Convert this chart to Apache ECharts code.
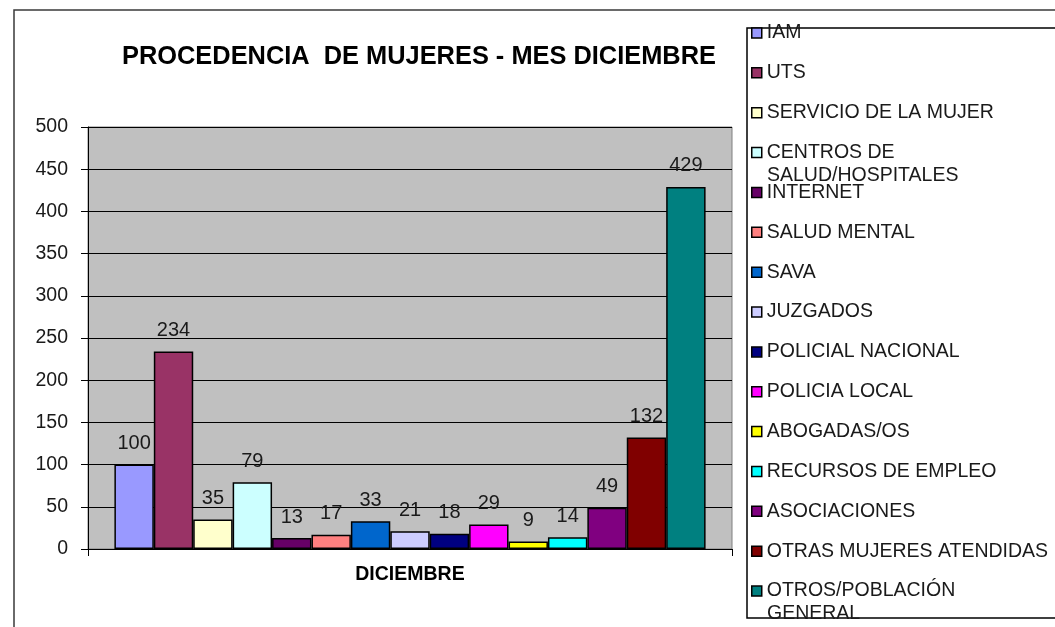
<!DOCTYPE html>
<html>
<head>
<meta charset="utf-8">
<script src="https://cdn.jsdelivr.net/npm/echarts@6/dist/echarts.min.js"></script>
<style>
html,body{margin:0;padding:0;background:#fff;}
#chart{width:1055px;height:627px;}
</style>
</head>
<body>
<div id="chart"></div>
<script>
const title = 'PROCEDENCIA  DE MUJERES - MES DICIEMBRE';
const categories = ['DICIEMBRE'];
const seriesNames = [
  'IAM', 'UTS', 'SERVICIO DE LA MUJER', 'CENTROS DE', 'INTERNET', 'SALUD MENTAL',
  'SAVA', 'JUZGADOS', 'POLICIAL NACIONAL', 'POLICIA LOCAL', 'ABOGADAS/OS',
  'RECURSOS DE EMPLEO', 'ASOCIACIONES', 'OTRAS MUJERES ATENDIDAS', 'OTROS/POBLACIÓN'
];
const seriesValues = [100, 234, 35, 79, 13, 17, 33, 21, 18, 29, 9, 14, 49, 132, 429];
const seriesColors = [
  '#9999FF', '#993366', '#FFFFCC', '#CCFFFF', '#660066', '#FF8080',
  '#0066CC', '#CCCCFF', '#000080', '#FF00FF', '#FFFF00',
  '#00FFFF', '#800080', '#800000', '#008080'
];
const legendSecondLines = [
  {after: 'CENTROS DE', text: 'SALUD/HOSPITALES'},
  {after: 'OTROS/POBLACIÓN', text: 'GENERAL'}
];
const yTicks = {min: 0, max: 500, interval: 50};

const FONT = '"Liberation Sans", Arial, sans-serif';
const chart = echarts.init(document.getElementById('chart'), null, {renderer: 'canvas'});

const legendTop = 23, legendStep = 39.86, legendFont = 19.5;

const series = seriesNames.map((name, i) => ({
  name: name,
  type: 'bar',
  data: [seriesValues[i]],
  barGap: '0%',
  barCategoryGap: '8.2%',
  itemStyle: {color: seriesColors[i], borderColor: '#000', borderWidth: 1.5},
  label: {
    show: true, position: 'top', distance: 11,
    color: '#1a1a1a', fontFamily: FONT, fontSize: 20
  }
}));

const graphics = [
  {type: 'rect', shape: {x: 14, y: 10, width: 1100, height: 700},
   style: {fill: 'none', stroke: '#3a3a3a', lineWidth: 1.5}, z: -10},
  {type: 'rect', shape: {x: 747, y: 28, width: 400, height: 590},
   style: {fill: '#fff', stroke: '#000', lineWidth: 1.5}, z: -5}
];
legendSecondLines.forEach(s => {
  const idx = seriesNames.indexOf(s.after);
  graphics.push({
    type: 'text', left: 767, top: legendTop + idx * legendStep + 23,
    style: {text: s.text, fill: '#1a1a1a', font: legendFont + 'px ' + FONT},
    z: 10
  });
});

chart.setOption({
  animation: false,
  backgroundColor: '#fff',
  title: {
    text: title, left: 122, top: 44, padding: 0,
    textStyle: {fontFamily: FONT, fontSize: 25.4, fontWeight: 'bold', color: '#000', lineHeight: 26}
  },
  legend: {
    orient: 'vertical', left: 751, top: legendTop, padding: 0,
    itemGap: legendStep - 20, itemWidth: 10, itemHeight: 10, icon: 'rect',
    selectedMode: false,
    itemStyle: {borderColor: '#000', borderWidth: 1.5},
    textStyle: {fontFamily: FONT, fontSize: legendFont, color: '#1a1a1a', lineHeight: 20},
    data: seriesNames
  },
  grid: {
    left: 88, right: 323, top: 127, bottom: 78, containLabel: false,
    show: true, backgroundColor: '#C0C0C0', borderColor: '#808080', borderWidth: 1
  },
  xAxis: {
    type: 'category', data: categories,
    axisLine: {show: true, lineStyle: {color: '#000', width: 1}},
    axisTick: {show: true, length: 7, lineStyle: {color: '#000'}},
    axisLabel: {margin: 16, fontFamily: FONT, fontSize: 19.5, fontWeight: 'bold', color: '#000'}
  },
  yAxis: {
    type: 'value', min: yTicks.min, max: yTicks.max, interval: yTicks.interval,
    axisLine: {show: true, lineStyle: {color: '#000', width: 1}},
    axisTick: {show: true, length: 7, lineStyle: {color: '#000'}},
    axisLabel: {margin: 20, fontFamily: FONT, fontSize: 19.5, color: '#1a1a1a'},
    splitLine: {show: true, lineStyle: {color: '#000', width: 1}}
  },
  graphic: graphics,
  series: series
});
</script>
</body>
</html>
